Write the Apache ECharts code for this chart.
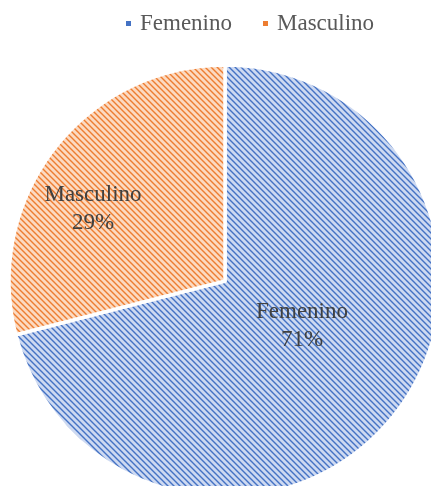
<!DOCTYPE html>
<html>
<head>
<meta charset="utf-8">
<style>
  html, body { margin: 0; padding: 0; background: #fff; }
  #chart { width: 431px; height: 486px; }
</style>
<script src="https://cdn.jsdelivr.net/npm/echarts@6/dist/echarts.min.js"></script>
</head>
<body>
<div id="chart"></div>
<script>
// 性别分布饼图
const categories = ['Femenino', 'Masculino'];
const values = [71, 29];
const percentLabels = ['71%', '29%'];

const solidColors = ['#4472c4', '#ed7d31'];
const lightColors = ['#cdd9f1', '#fcdac1'];
// 标签中心位置（像素）
const labelSpots = [[302, 326], [93, 209]];

// 斜线填充图案（左上到右下）
function hatch(bg, fg) {
    const c = document.createElement('canvas');
    c.width = 6;
    c.height = 6;
    const ctx = c.getContext('2d');
    ctx.fillStyle = bg;
    ctx.fillRect(0, 0, 6, 6);
    ctx.strokeStyle = fg;
    ctx.lineWidth = 1.4;
    ctx.beginPath();
    ctx.moveTo(-1, -1); ctx.lineTo(7, 7);
    ctx.moveTo(5, -1); ctx.lineTo(7, 1);
    ctx.moveTo(-1, 5); ctx.lineTo(1, 7);
    ctx.stroke();
    return c;
}

const pieData = categories.map((name, i) => ({
    name: name,
    value: values[i],
    itemStyle: {
        color: { image: hatch(lightColors[i], solidColors[i]), repeat: 'repeat' }
    }
}));

const chart = echarts.init(document.getElementById('chart'));
chart.setOption({
    animation: false,
    legend: {
        top: 7,
        left: 119,
        itemWidth: 7,
        itemHeight: 7,
        itemGap: 29,
        icon: 'rect',
        data: categories.map((name, i) => ({ name: name, itemStyle: { color: solidColors[i] } })),
        textStyle: {
            fontFamily: 'Liberation Serif, Times New Roman, serif',
            fontSize: 23,
            color: '#595959',
            padding: [0, 0, 0, 3]
        }
    },
    series: [{
        type: 'pie',
        center: [225, 281],
        radius: 216,
        startAngle: 90,
        clockwise: true,
        selectedMode: false,
        data: pieData,
        itemStyle: { borderColor: '#fff', borderWidth: 3.5 },
        emphasis: { disabled: true },
        label: {
            show: true,
            position: 'inside',
            formatter: (p) => p.name + '\n' + percentLabels[p.dataIndex],
            fontFamily: 'Liberation Serif, Times New Roman, serif',
            fontSize: 23,
            lineHeight: 28,
            color: '#404040',
            align: 'center'
        },
        labelLine: { show: false },
        labelLayout: (params) => ({
            x: labelSpots[params.dataIndex][0],
            y: labelSpots[params.dataIndex][1],
            align: 'center',
            verticalAlign: 'middle'
        })
    }]
});
</script>
</body>
</html>
